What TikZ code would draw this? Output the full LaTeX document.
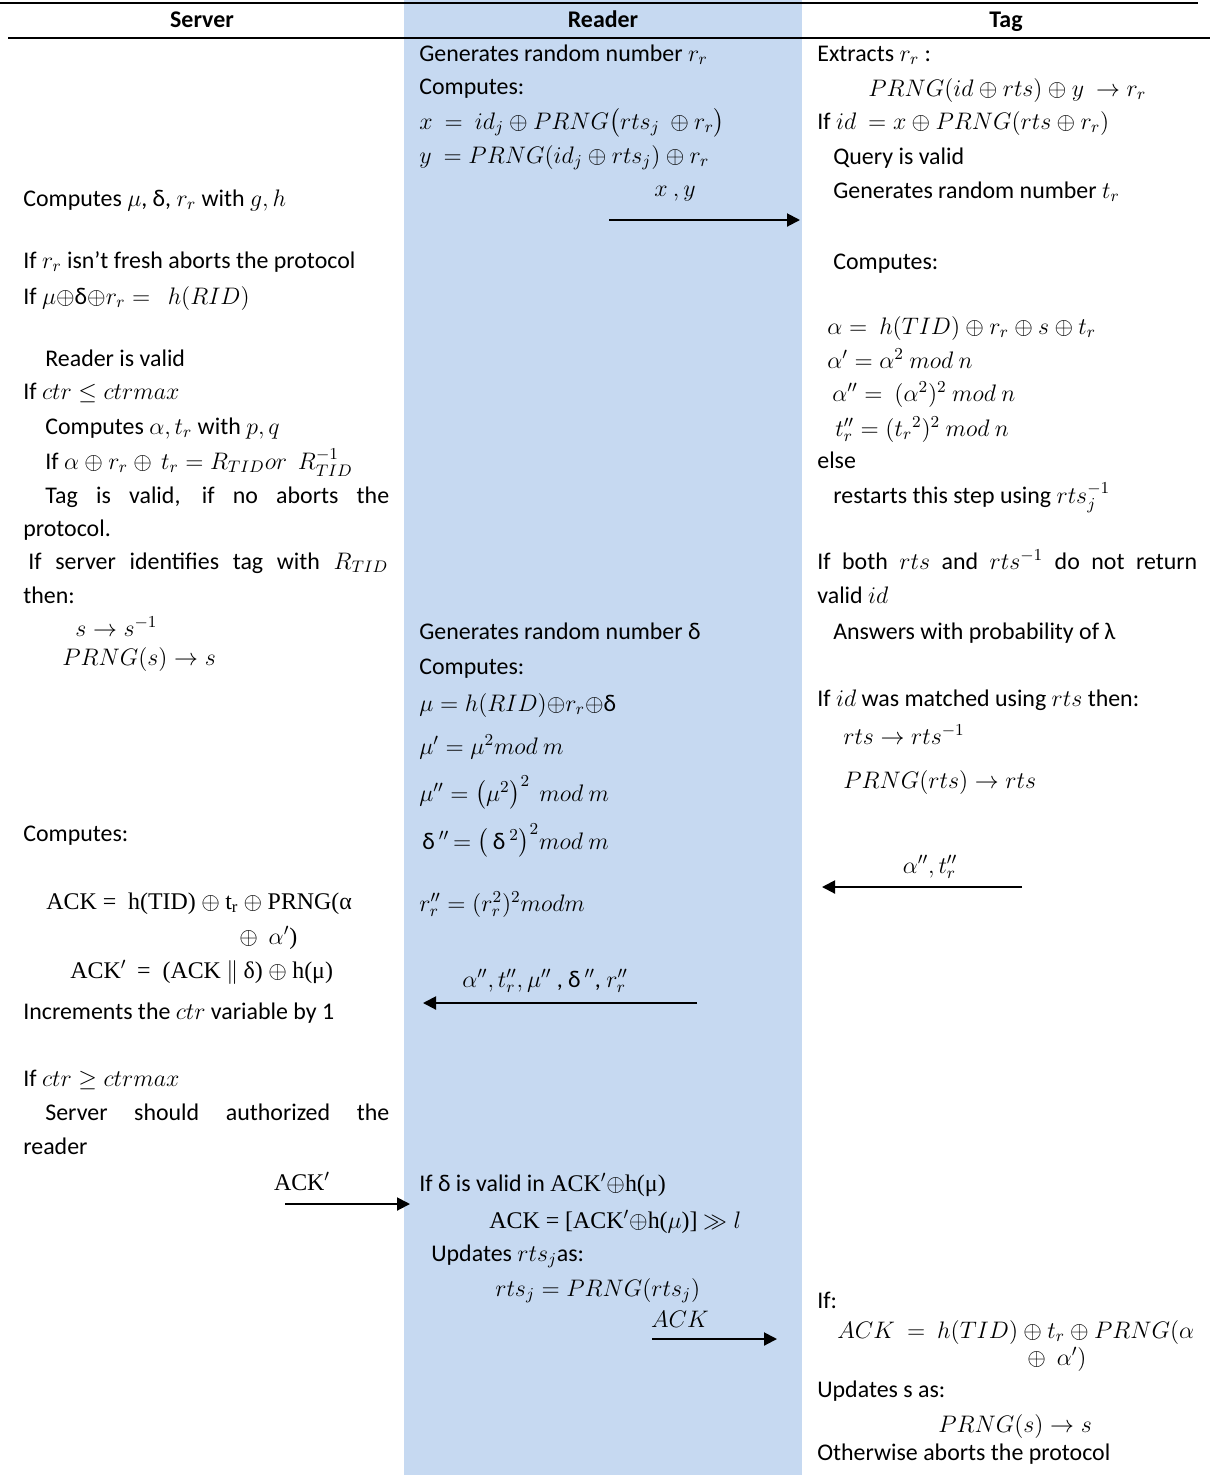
\RequirePackage{fix-cm}
\documentclass[tikz,border=0pt]{standalone}
\usepackage{amsmath,amssymb}
\usepackage[no-math]{fontspec}
\setmainfont{Carlito}
\newfontfamily\tnr{Liberation Serif}
\usepackage{xcolor}
\usepackage{tikz}
\usetikzlibrary{arrows.meta}
\definecolor{leitor}{RGB}{198,217,241}
\newcommand{\fsz}{\fontsize{13.6pt}{16pt}\selectfont}
\newcommand{\xor}{\ensuremath{\oplus}}
\newcommand{\dl}{\ensuremath{^{\prime\prime}}}
\tikzset{
  linha/.style={anchor=base west, inner sep=0pt, font=\fsz},
  rotulo/.style={anchor=base, inner sep=0pt, font=\fsz},
  cabec/.style={anchor=base, inner sep=0pt, font=\fsz\bfseries},
  seta/.style={-{Triangle[length=0.26cm,width=0.26cm]}, line width=0.04cm},
}
\begin{document}
\begin{tikzpicture}[x=0.02cm, y=-0.02cm,
    regra/.style={line width=0.05cm},
  ]
  \useasboundingbox (0,0) rectangle (1210,1475);
  \fill[leitor] (404,0) rectangle (802,1475);
  \draw[regra] (0,3) -- (1198,3);
  \draw[regra] (8,38) -- (1210,38);

  \node[cabec] (hserver) at (202,27) {Server};
  \node[cabec] (hreader) at (603,27) {Reader};
  \node[cabec] (htag) at (1006,27) {Tag};

  % server
  \node[linha] (s1) at (23,206) {Computes $\mu$, δ, $r_r$ with $g, h$};
  \node[linha] (s2) at (23,268) {If $r_r$ isn’t fresh aborts the protocol};
  \node[linha] (s3) at (23,304) {If $\mu$\xor δ\xor$r_r =\ \ h(RID)$};
  \node[linha] (s4) at (45,366) {Reader is valid};
  \node[linha] (s5) at (23,399) {If $ctr \le ctrmax$};
  \node[linha] (s6) at (45,434) {Computes $\alpha, t_r$ with $p, q$};
  \node[linha] (s7) at (45,469) {If $\alpha\oplus r_r\oplus\, t_r = R_{TID} or\ \ R_{TID}^{-1}$};
  \node[linha] (s8) at (45,503) {\makebox[6.88cm][s]{Tag is valid, if no aborts the}};
  \node[linha] (s9) at (23,536) {protocol.};
  \node[linha] (s10) at (28,569) {\makebox[7.2cm][s]{If server identifies tag with $R_{TID}$}};
  \node[linha] (s11) at (23,603) {then:};
  \node[linha] (s12) at (75,636) {$s \rightarrow s^{-1}$};
  \node[linha] (s13) at (62,665) {$PRNG(s) \rightarrow s$};
  \node[linha] (s14) at (23,841) {Computes:};
  \node[linha] (s15) at (46,909) {{\tnr ACK =\ \ h(TID)} $\oplus$ {\tnr t\textsubscript{r}} $\oplus$ {\tnr PRNG(α}};
  \node[linha] (s16) at (239,944) {$\oplus\ \ \alpha^{\prime}$\tnr )};
  \node[linha] (s17) at (70,978) {{\tnr ACK}$^{\prime}$\ \ {\tnr =\ \ (ACK} $\parallel$ {\tnr δ)} $\oplus$ {\tnr h(μ)}};
  \node[linha] (s18) at (23,1019) {Increments the $ctr$ variable by 1};
  \node[linha] (s19) at (23,1086) {If $ctr \ge ctrmax$};
  \node[linha] (s20) at (45,1120) {\makebox[6.88cm][s]{Server should authorized the}};
  \node[linha] (s21) at (23,1154) {reader};

  % reader
  \node[linha] (r1) at (419,61) {Generates random number $r_r$};
  \node[linha] (r2) at (419,94) {Computes:};
  \node[linha] (r3) at (419,129) {$x\ =\ id_j \oplus PRNG\big(rts_j\ \oplus r_r\big)$};
  \node[linha] (r4) at (419,163) {$y\ = PRNG(id_j \oplus rts_j) \oplus r_r$};
  \node[linha] (r5) at (419,639) {Generates random number δ};
  \node[linha] (r6) at (419,674) {Computes:};
  \node[linha] (r7) at (419,711) {$\mu = h(RID)$\xor$r_r$\xor δ};
  \node[linha] (r8) at (419,754) {$\mu^{\prime} = \mu^{2} mod\ m$};
  \node[linha] (r9) at (419,801) {$\mu\dl = \left(\mu^{2}\right)^{2}\ mod\ m$};
  \node[linha] (r10) at (422,849) {δ\,\dl$\, = \big(\,$δ$\,^{2}\big)^{2} mod\ m$};
  \node[linha] (r11) at (419,911) {$r_r\dl = (r_r^{2})^{2} modm$};
  \node[linha] (r12) at (419,1191) {If δ is valid in {\tnr ACK}$^{\prime}\oplus${\tnr h(μ)}};
  \node[linha] (r13) at (489,1228) {{\tnr ACK = [ACK}$^{\prime}\oplus${\tnr h(}$\mu${\tnr )]} $\gg l$};
  \node[linha] (r14) at (431,1261) {Updates $rts_j$as:};
  \node[linha] (r15) at (495,1296) {$rts_j = PRNG(rts_j)$};

  % tag
  \node[linha] (t1) at (817,61) {Extracts $r_r$ :};
  \node[linha] (t2) at (868,96) {$PRNG(id \oplus rts) \oplus y\ \rightarrow r_r$};
  \node[linha] (t3) at (817,129) {If $id\ = x \oplus PRNG(rts \oplus r_r)$};
  \node[linha] (t4) at (833,164) {Query is valid};
  \node[linha] (t5) at (833,198) {Generates random number $t_r$};
  \node[linha] (t6) at (833,269) {Computes:};
  \node[linha] (t7) at (827,334) {$\alpha =\ h(TID) \oplus r_r \oplus s \oplus t_r$};
  \node[linha] (t8) at (827,368) {$\alpha^{\prime} = \alpha^{2}\ mod\ n$};
  \node[linha] (t9) at (832,401) {$\alpha\dl =\ (\alpha^{2})^{2}\ mod\ n$};
  \node[linha] (t10) at (835,436) {$t_r\dl = (t_r{}^{2})^{2}\ mod\ n$};
  \node[linha] (t11) at (817,468) {else};
  \node[linha] (t12) at (833,503) {restarts this step using $rts_j^{-1}$};
  \node[linha] (t13) at (817,569) {\makebox[7.6cm][s]{If both $rts$ and $rts^{-1}$ do not return}};
  \node[linha] (t14) at (817,603) {valid $id$};
  \node[linha] (t15) at (833,639) {Answers with probability of λ};
  \node[linha] (t16) at (817,706) {If $id$ was matched using $rts$ then:};
  \node[linha] (t17) at (843,744) {$rts \rightarrow rts^{-1}$};
  \node[linha] (t18) at (843,788) {$PRNG(rts) \rightarrow rts$};
  \node[linha] (t19) at (817,1308) {If:};
  \node[linha] (t20) at (837,1338) {$ACK\ =\ h(TID) \oplus t_r \oplus PRNG(\alpha$};
  \node[linha] (t21) at (1027,1365) {$\oplus\ \ \alpha^{\prime})$};
  \node[linha] (t22) at (817,1397) {Updates s as:};
  \node[linha] (t23) at (938,1432) {$PRNG(s) \rightarrow s$};
  \node[linha] (t24) at (817,1460) {Otherwise aborts the protocol};

  % messages
  \coordinate (m1a) at (609,220);  \coordinate (m1b) at (800,220);
  \coordinate (m2a) at (1022,887); \coordinate (m2b) at (822,887);
  \coordinate (m3a) at (697,1003); \coordinate (m3b) at (423,1003);
  \coordinate (m4a) at (285,1204); \coordinate (m4b) at (410,1204);
  \coordinate (m5a) at (652,1339); \coordinate (m5b) at (777,1339);
  \node[rotulo] (l1) at (675,196) {$x\ ,y$};
  \node[rotulo] (l2) at (930,873) {$\alpha\dl, t_r\dl$};
  \node[rotulo] (l3) at (545,987) {$\alpha\dl, t_r\dl, \mu\dl$ , δ\,\dl, $r_r\dl$};
  \node[rotulo] (l4) at (302,1190) {{\tnr ACK}$^{\prime}$};
  \node[rotulo] (l5) at (680,1327) {$ACK$};
  \draw[seta] (m1a) -- (m1b);
  \draw[seta] (m2a) -- (m2b);
  \draw[seta] (m3a) -- (m3b);
  \draw[seta] (m4a) -- (m4b);
  \draw[seta] (m5a) -- (m5b);
\end{tikzpicture}
\end{document}
